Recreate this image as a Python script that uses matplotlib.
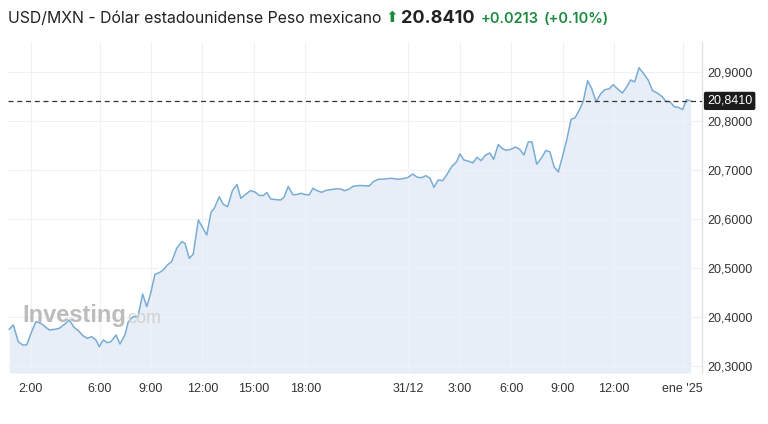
import matplotlib
matplotlib.use('Agg')
import matplotlib.pyplot as plt
import matplotlib.transforms as mtransforms

# horas desde 30/12 00:00 (eje comprimido como en la fuente)
horas = [
    0.73, 0.97, 1.26, 1.52, 1.75, 2.04, 2.29, 2.57, 2.82, 3.07,
    3.40, 3.65, 3.98, 4.23, 4.51, 4.76, 5.05, 5.28, 5.54, 5.79,
    5.98, 6.22, 6.45, 6.66, 6.96, 7.19, 7.48, 7.67, 7.95, 8.24,
    8.51, 8.75, 8.98, 9.23, 9.48, 9.71, 9.95, 10.20, 10.50, 10.79,
    10.98, 11.23, 11.46, 11.76, 12.01, 12.25, 12.50, 12.69, 12.98, 13.21,
    13.47, 13.75, 14.01, 14.24, 14.54, 14.80, 15.06, 15.31, 15.55, 15.76,
    15.98, 16.30, 16.56, 16.75, 17.00, 17.28, 17.51, 17.76, 17.98, 18.23,
    18.44, 18.69, 18.95, 19.24, 19.53, 19.80, 20.05, 20.28, 20.51, 20.78,
    21.18, 21.73, 21.96, 22.25, 22.64, 23.03, 23.42, 23.81, 24.00, 24.26,
    24.53, 24.78, 25.03, 25.27, 25.50, 25.75, 26.01, 26.24, 26.53, 26.82,
    27.01, 27.25, 27.53, 27.77, 28.01, 28.25, 28.50, 28.75, 28.98, 29.25,
    29.48, 29.71, 30.00, 30.25, 30.50, 30.75, 31.00, 31.21, 31.49, 31.76,
    32.02, 32.26, 32.51, 32.75, 33.01, 33.24, 33.50, 33.72, 33.98, 34.20,
    34.46, 34.69, 34.96, 35.22, 35.47, 35.72, 35.95, 36.23, 36.49, 36.73,
    36.97, 37.20, 37.46, 37.73, 37.99, 38.25, 38.52, 38.78, 39.03, 39.26,
    39.51, 39.74, 40.00, 40.23, 40.47,
]
precio = [
    20.3749, 20.3837, 20.3496, 20.3429, 20.3429, 20.3700, 20.3904, 20.3871, 20.3802, 20.3735,
    20.3749, 20.3769, 20.3857, 20.3939, 20.3790, 20.3720, 20.3612, 20.3565, 20.3598, 20.3531,
    20.3394, 20.3531, 20.3476, 20.3496, 20.3633, 20.3449, 20.3633, 20.3898, 20.4006, 20.4006,
    20.4469, 20.4210, 20.4484, 20.4871, 20.4904, 20.4959, 20.5061, 20.5129, 20.5402, 20.5537,
    20.5504, 20.5198, 20.5280, 20.5980, 20.5822, 20.5673, 20.6137, 20.6218, 20.6455, 20.6300,
    20.6251, 20.6582, 20.6704, 20.6422, 20.6510, 20.6578, 20.6551, 20.6480, 20.6480, 20.6541,
    20.6408, 20.6394, 20.6388, 20.6439, 20.6663, 20.6494, 20.6500, 20.6524, 20.6498, 20.6494,
    20.6627, 20.6578, 20.6545, 20.6586, 20.6602, 20.6616, 20.6612, 20.6578, 20.6602, 20.6667,
    20.6684, 20.6673, 20.6761, 20.6810, 20.6816, 20.6831, 20.6810, 20.6831, 20.6851, 20.6918,
    20.6851, 20.6843, 20.6884, 20.6831, 20.6647, 20.6796, 20.6782, 20.6898, 20.7067, 20.7169,
    20.7327, 20.7204, 20.7178, 20.7143, 20.7259, 20.7190, 20.7302, 20.7347, 20.7218, 20.7520,
    20.7439, 20.7402, 20.7424, 20.7469, 20.7422, 20.7306, 20.7571, 20.7578, 20.7118, 20.7239,
    20.7398, 20.7373, 20.7061, 20.6959, 20.7296, 20.7612, 20.8037, 20.8061, 20.8224, 20.8394,
    20.8822, 20.8667, 20.8394, 20.8555, 20.8639, 20.8657, 20.8741, 20.8647, 20.8571, 20.8690,
    20.8837, 20.8796, 20.9088, 20.8963, 20.8837, 20.8618, 20.8571, 20.8504, 20.8402, 20.8394,
    20.8292, 20.8280, 20.8231, 20.8435, 20.8410,
]

ultimo = 20.8410
cambio = '+0.0213'
cambio_pct = '(+0.10%)'

xticks = [2, 6, 9, 12, 15, 18, 24, 27, 30, 33, 36, 40]
xlabels = ['2:00', '6:00', '9:00', '12:00', '15:00', '18:00', '31/12',
           '3:00', '6:00', '9:00', '12:00', "ene '25"]
yticks = [20.3, 20.4, 20.5, 20.6, 20.7, 20.8, 20.9]

plt.rcParams['font.family'] = ['Liberation Sans', 'DejaVu Sans']

fig = plt.figure(figsize=(7.68, 4.24), dpi=100)
ax = fig.add_axes([8 / 768, 1 - 373 / 424, 694 / 768, 331 / 424])

ymin, ymax = 20.2857, 20.9612
ax.fill_between(horas, precio, ymin, color='#e7eef8', lw=0, zorder=1)
ax.plot(horas, precio, color='#79acd4', lw=1.1, zorder=2)
ax.axhline(ultimo, color='#333333', lw=0.9, dashes=(4, 3), zorder=3)

ax.set_xlim(0.66, 41.13)
ax.set_ylim(ymin, ymax)

ax.set_xticks(xticks)
ax.set_xticklabels(xlabels)
ax.set_yticks(yticks)
ax.set_yticklabels([f'{v:.4f}'.replace('.', ',') for v in yticks])
ax.yaxis.tick_right()
ax.tick_params(axis='both', length=0, labelsize=9, colors='#333333')
ax.tick_params(axis='x', pad=7)
ax.tick_params(axis='y', pad=4)
ax.grid(True, color='#eef1f5', lw=0.8)

for s in ['top', 'left', 'bottom']:
    ax.spines[s].set_visible(False)
ax.spines['right'].set_color('#e2e2e2')
ax.spines['right'].set_linewidth(1)

# caja con el último precio
trans = mtransforms.blended_transform_factory(ax.transAxes, ax.transData)
ax.text(1.0 + 5 / 694, ultimo, f'{ultimo:.4f}'.replace('.', ','), transform=trans,
        ha='left', va='center', fontsize=9, color='white',
        bbox=dict(boxstyle='round,pad=0.25,rounding_size=0.15', fc='#1c1c1c', ec='none'))

# marca de agua
wm = ax.text(0.021, 0.155, 'Investing', transform=ax.transAxes, fontsize=17,
             fontweight='bold', color='#bcbcbc', ha='left', va='baseline', zorder=4)
fig.canvas.draw()
r = fig.canvas.get_renderer()
bb = wm.get_window_extent(r)
fig.text(bb.x1 / 768 + 1 / 768, bb.y0 / 424 + 4 / 424, 'com', fontsize=13,
         color='#d2d2d2', ha='left', va='baseline')

# título
ty = 1 - 23 / 424
t1 = fig.text(8 / 768, ty, 'USD/MXN - Dólar estadounidense Peso mexicano',
              family=['Inter', 'DejaVu Sans'], fontsize=11.4, color='#222222', va='baseline')
fig.canvas.draw()
x = t1.get_window_extent(r).x1 + 4
t2 = fig.text(x / 768, ty + 1 / 424, '⬆', family=['DejaVu Sans'], fontsize=11,
              color='#1a8a3f', va='baseline')
x = t2.get_window_extent(r).x1 + 3
t3 = fig.text(x / 768, ty, f'{ultimo:.4f}', family=['Inter', 'DejaVu Sans'],
              fontsize=13, fontweight='bold', color='#222222', va='baseline')
x = t3.get_window_extent(r).x1 + 6
t4 = fig.text(x / 768, ty, cambio, family=['Inter', 'DejaVu Sans'],
              fontsize=10.5, fontweight='semibold', color='#1a8a3f', va='baseline')
x = t4.get_window_extent(r).x1 + 5
fig.text(x / 768, ty, cambio_pct, family=['Inter', 'DejaVu Sans'],
         fontsize=10.5, fontweight='semibold', color='#1a8a3f', va='baseline')

plt.savefig('out.png', dpi=100)
